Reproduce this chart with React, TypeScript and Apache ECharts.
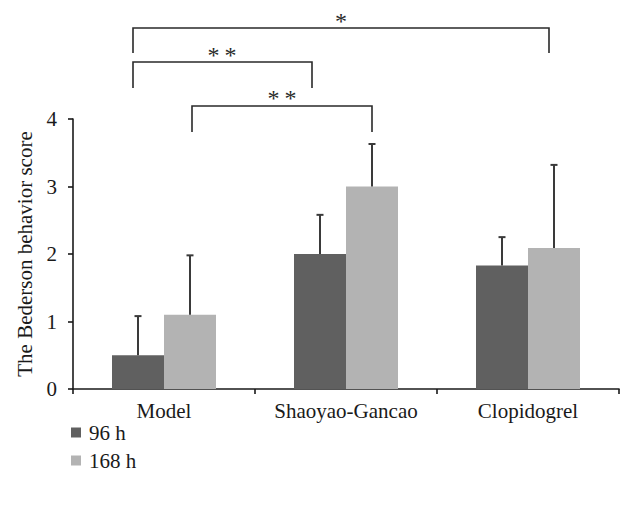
import React, { useEffect, useRef } from "react";
import * as echarts from "echarts";

const categories = ["Model", "Shaoyao-Gancao", "Clopidogrel"];
const mean96 = [0.5, 2.0, 1.83];
const sd96 = [0.58, 0.58, 0.42];
const mean168 = [1.1, 3.0, 2.09];
const sd168 = [0.88, 0.63, 1.23];
const seriesNames = ["96 h", "168 h"];
const yTicks = [0, 1, 2, 3, 4];

const FONT = "'Liberation Serif', 'DejaVu Serif', serif";
const DARK = "#606060";
const LIGHT = "#b3b3b3";
const INK = "#2a2a2a";
const BAR_W = 52;

function errorSeries(name: string, means: number[], sds: number[], offset: number) {
  return {
    name: name + " err",
    type: "custom",
    z: 5,
    silent: true,
    data: means.map((m, i) => [i, m, sds[i]]),
    renderItem: (params: any, api: any) => {
      const idx = api.value(0);
      const m = api.value(1);
      const s = api.value(2);
      const base = api.coord([idx, m]);
      const top = api.coord([idx, m + s]);
      const x = base[0] + offset;
      const style = { stroke: "#3a3a3a", lineWidth: 2 };
      return {
        type: "group",
        children: [
          { type: "line", shape: { x1: x, y1: base[1], x2: x, y2: top[1] }, style },
          { type: "line", shape: { x1: x - 3.5, y1: top[1], x2: x + 3.5, y2: top[1] }, style: { stroke: "#3a3a3a", lineWidth: 2 } },
        ],
      };
    },
  };
}

function bracket(x1: number, x2: number, y: number, legBottom: number, label: string, labelX: number, labelY: number) {
  return [
    {
      type: "polyline",
      shape: { points: [[x1, legBottom], [x1, y], [x2, y], [x2, legBottom]] },
      style: { stroke: INK, lineWidth: 1.6, fill: null },
    },
    {
      type: "text",
      x: labelX,
      y: labelY,
      style: { text: label, font: `24px ${FONT}`, fill: INK, textAlign: "center", textVerticalAlign: "middle" },
    },
  ];
}

export default function App() {
  const ref = useRef<HTMLDivElement>(null);
  useEffect(() => {
    if (!ref.current) return;
    const chart = echarts.init(ref.current, null, { renderer: "svg" });
    chart.setOption({
      animation: false,
      backgroundColor: "#ffffff",
      grid: { left: 73, right: 13, top: 119, bottom: 121, containLabel: false },
      legend: {
        orient: "vertical",
        left: 66,
        top: 417,
        icon: "rect",
        itemWidth: 10,
        itemHeight: 10,
        itemGap: 7,
        data: seriesNames,
        textStyle: { fontFamily: FONT, fontSize: 21, color: "#1a1a1a", padding: [0, 0, 0, 3] },
        selectedMode: false,
      },
      xAxis: {
        type: "category",
        data: categories,
        axisLine: { lineStyle: { color: "#1a1a1a", width: 1.6 } },
        axisTick: { show: true, length: 5, lineStyle: { color: "#1a1a1a", width: 1.6 } },
        axisLabel: { interval: 0, fontFamily: FONT, fontSize: 21, color: "#1a1a1a", margin: 11 },
      },
      yAxis: {
        type: "value",
        min: yTicks[0],
        max: yTicks[yTicks.length - 1],
        interval: 1,
        name: "The Bederson behavior score",
        nameLocation: "middle",
        nameGap: 38,
        nameTextStyle: { fontFamily: FONT, fontSize: 21, color: "#1a1a1a" },
        axisLine: { show: true, lineStyle: { color: "#1a1a1a", width: 1.6 } },
        axisTick: { show: true, length: 5, lineStyle: { color: "#1a1a1a", width: 1.6 } },
        axisLabel: { fontFamily: FONT, fontSize: 21, color: "#1a1a1a", margin: 16 },
        splitLine: { show: false },
      },
      series: [
        {
          name: seriesNames[0],
          type: "bar",
          data: mean96,
          barWidth: BAR_W,
          barGap: "0%",
          itemStyle: { color: DARK },
        },
        {
          name: seriesNames[1],
          type: "bar",
          data: mean168,
          barWidth: BAR_W,
          barGap: "0%",
          itemStyle: { color: LIGHT },
        },
        errorSeries(seriesNames[0], mean96, sd96, -BAR_W / 2),
        errorSeries(seriesNames[1], mean168, sd168, BAR_W / 2),
      ],
      graphic: [
        ...bracket(133, 549, 28, 53, "*", 341, 21),
        ...bracket(133, 312, 62, 88, "*\u2009*", 222, 55),
        ...bracket(192, 372, 106, 132, "*\u2009*", 282, 98),
      ],
    });
    return () => chart.dispose();
  }, []);
  return <div ref={ref} style={{ position: "fixed", left: 0, top: 0, width: 632, height: 510 }} />;
}
